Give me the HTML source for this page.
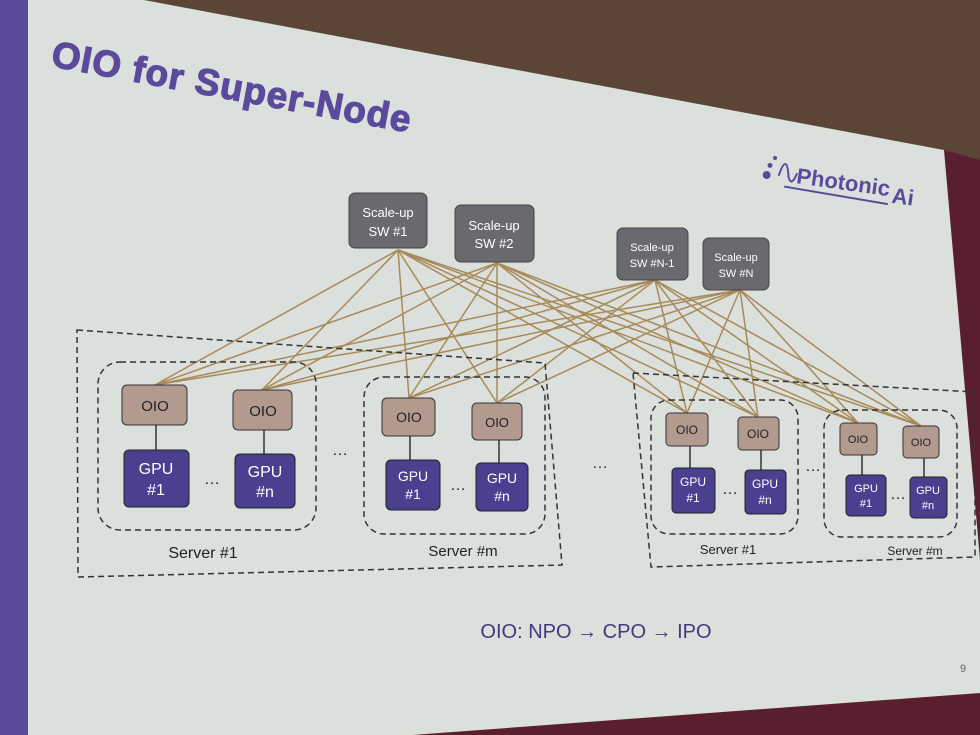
<!DOCTYPE html>
<html><head><meta charset="utf-8"><style>
html,body{margin:0;padding:0;width:980px;height:735px;overflow:hidden;background:#4e3b30}
svg{display:block}
text{font-family:"Liberation Sans",sans-serif}
</style></head><body>
<svg width="980" height="735" viewBox="0 0 980 735" xmlns="http://www.w3.org/2000/svg">
<rect width="980" height="735" fill="#5a4537"/>
<polygon points="944,150 980,160 980,735 420,735" fill="#5a1f2e"/>
<polygon points="0,0 144,0 944,150 980,560 980,693 412,735 0,735" fill="#dbe0dd"/>
<rect x="0" y="0" width="28" height="735" fill="#5b4a9c"/>
<text x="50" y="66" font-size="37" font-weight="bold" fill="#5b4a9c" stroke="#5b4a9c" stroke-width="1.2" letter-spacing="1" transform="rotate(10.5 50 66)">OIO for Super-Node</text>
<g transform="rotate(8 845 185)">
<circle cx="766" cy="186" r="4" fill="#5b4a9c"/><circle cx="768" cy="176" r="2.5" fill="#5b4a9c"/><circle cx="772" cy="168" r="2" fill="#5b4a9c"/>
<path d="M778 185 q5 -25 10 0 q4 10 8 -5" stroke="#5b4a9c" stroke-width="2" fill="none"/>
<text x="796" y="190" font-size="22" font-weight="bold" fill="#5b4a9c">Photonic</text>
<text x="893" y="196" font-size="22" font-weight="bold" fill="#5b4a9c">Ai</text>
<line x1="785" y1="195" x2="890" y2="198" stroke="#5b4a9c" stroke-width="2"/>
</g>
<g stroke="#a88a58" stroke-width="1.5">
<line x1="398" y1="250" x2="155" y2="385"/><line x1="398" y1="250" x2="262" y2="390"/><line x1="398" y1="250" x2="409" y2="398"/><line x1="398" y1="250" x2="497" y2="403"/><line x1="398" y1="250" x2="687" y2="413"/><line x1="398" y1="250" x2="758" y2="417"/><line x1="398" y1="250" x2="858" y2="423"/><line x1="398" y1="250" x2="921" y2="426"/>
<line x1="497" y1="263" x2="155" y2="385"/><line x1="497" y1="263" x2="262" y2="390"/><line x1="497" y1="263" x2="409" y2="398"/><line x1="497" y1="263" x2="497" y2="403"/><line x1="497" y1="263" x2="687" y2="413"/><line x1="497" y1="263" x2="758" y2="417"/><line x1="497" y1="263" x2="858" y2="423"/><line x1="497" y1="263" x2="921" y2="426"/>
<line x1="655" y1="280" x2="155" y2="385"/><line x1="655" y1="280" x2="262" y2="390"/><line x1="655" y1="280" x2="409" y2="398"/><line x1="655" y1="280" x2="497" y2="403"/><line x1="655" y1="280" x2="687" y2="413"/><line x1="655" y1="280" x2="758" y2="417"/><line x1="655" y1="280" x2="858" y2="423"/><line x1="655" y1="280" x2="921" y2="426"/>
<line x1="740" y1="290" x2="155" y2="385"/><line x1="740" y1="290" x2="262" y2="390"/><line x1="740" y1="290" x2="409" y2="398"/><line x1="740" y1="290" x2="497" y2="403"/><line x1="740" y1="290" x2="687" y2="413"/><line x1="740" y1="290" x2="758" y2="417"/><line x1="740" y1="290" x2="858" y2="423"/><line x1="740" y1="290" x2="921" y2="426"/>
</g>
<g fill="#6a6a6e" stroke="#444" stroke-width="1">
<rect x="349" y="193" width="78" height="55" rx="6"/><rect x="455" y="205" width="79" height="57" rx="6"/><rect x="617" y="228" width="71" height="52" rx="6"/><rect x="703" y="238" width="66" height="52" rx="6"/>
</g>
<g fill="#fff" text-anchor="middle">
<text x="388" y="217" font-size="13">Scale-up</text><text x="388" y="236" font-size="13">SW #1</text>
<text x="494" y="230" font-size="13">Scale-up</text><text x="494" y="248" font-size="13">SW #2</text>
<text x="652" y="251" font-size="11">Scale-up</text><text x="652" y="267" font-size="11">SW #N-1</text>
<text x="736" y="261" font-size="11">Scale-up</text><text x="736" y="277" font-size="11">SW #N</text>
</g>
<g fill="none" stroke="#333" stroke-width="1.5" stroke-dasharray="6,4">
<polygon points="77,330 545,363 562,565 78,577"/>
<polygon points="633,373 975,392 975,557 651,567"/>
<rect x="98" y="362" width="218" height="168" rx="22"/>
<rect x="364" y="377" width="181" height="157" rx="20"/>
<rect x="651" y="400" width="147" height="134" rx="18"/>
<rect x="824" y="410" width="133" height="127" rx="18"/>
</g>
<g stroke="#333" stroke-width="1.5">
<line x1="156" y1="425" x2="156" y2="450"/><line x1="264" y1="430" x2="264" y2="454"/><line x1="410" y1="436" x2="410" y2="460"/><line x1="499" y1="440" x2="499" y2="463"/><line x1="690" y1="446" x2="690" y2="468"/><line x1="761" y1="450" x2="761" y2="470"/><line x1="862" y1="455" x2="862" y2="475"/><line x1="924" y1="458" x2="924" y2="477"/>
</g>
<g fill="#b39a8e" stroke="#333" stroke-width="1">
<rect x="122" y="385" width="65" height="40" rx="5"/><rect x="233" y="390" width="59" height="40" rx="5"/><rect x="382" y="398" width="53" height="38" rx="5"/><rect x="472" y="403" width="50" height="37" rx="5"/><rect x="666" y="413" width="42" height="33" rx="4"/><rect x="738" y="417" width="41" height="33" rx="4"/><rect x="840" y="423" width="37" height="32" rx="4"/><rect x="903" y="426" width="36" height="32" rx="4"/>
</g>
<g fill="#222" text-anchor="middle">
<text x="155" y="411" font-size="15">OIO</text><text x="263" y="416" font-size="15">OIO</text><text x="409" y="422" font-size="14">OIO</text><text x="497" y="427" font-size="13">OIO</text><text x="687" y="434" font-size="12">OIO</text><text x="758" y="438" font-size="12">OIO</text><text x="858" y="443" font-size="11">OIO</text><text x="921" y="446" font-size="11">OIO</text>
</g>
<g fill="#4b3f8f" stroke="#222" stroke-width="1">
<rect x="124" y="450" width="65" height="57" rx="5"/><rect x="235" y="454" width="60" height="54" rx="5"/><rect x="386" y="460" width="54" height="50" rx="5"/><rect x="476" y="463" width="52" height="48" rx="5"/><rect x="672" y="468" width="43" height="45" rx="4"/><rect x="745" y="470" width="41" height="44" rx="4"/><rect x="846" y="475" width="40" height="41" rx="4"/><rect x="910" y="477" width="37" height="41" rx="4"/>
</g>
<g fill="#fff" text-anchor="middle">
<text x="156" y="474" font-size="16">GPU</text><text x="156" y="495" font-size="16">#1</text>
<text x="265" y="477" font-size="16">GPU</text><text x="265" y="497" font-size="16">#n</text>
<text x="413" y="481" font-size="14">GPU</text><text x="413" y="499" font-size="14">#1</text>
<text x="502" y="483" font-size="14">GPU</text><text x="502" y="501" font-size="14">#n</text>
<text x="693" y="486" font-size="12">GPU</text><text x="693" y="502" font-size="12">#1</text>
<text x="765" y="488" font-size="12">GPU</text><text x="765" y="504" font-size="12">#n</text>
<text x="866" y="492" font-size="11">GPU</text><text x="866" y="507" font-size="11">#1</text>
<text x="928" y="494" font-size="11">GPU</text><text x="928" y="509" font-size="11">#n</text>
</g>
<g fill="#222" font-size="16" text-anchor="middle">
<text x="340" y="455">…</text><text x="212" y="484">…</text><text x="458" y="490">…</text><text x="600" y="468">…</text><text x="730" y="494">…</text><text x="813" y="471">…</text><text x="898" y="499">…</text>
</g>
<g fill="#222" text-anchor="middle">
<text x="203" y="558" font-size="16">Server #1</text><text x="463" y="556" font-size="15">Server #m</text><text x="728" y="554" font-size="13">Server #1</text><text x="915" y="555" font-size="12">Server #m</text>
</g>
<text x="596" y="638" font-size="20" fill="#3f3a80" text-anchor="middle">OIO: NPO → CPO → IPO</text>
<text x="960" y="672" font-size="11" fill="#666">9</text>
</svg>
</body></html>
